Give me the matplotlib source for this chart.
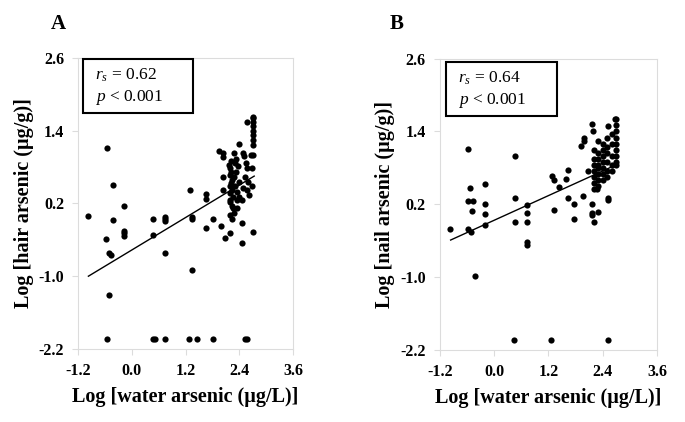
import matplotlib
matplotlib.use("Agg")
import matplotlib.pyplot as plt
from matplotlib.patches import Rectangle

plt.rcParams['font.family'] = ['Liberation Serif', 'DejaVu Serif']
plt.rcParams['mathtext.fontset'] = 'custom'
plt.rcParams['mathtext.rm'] = 'Liberation Serif'
plt.rcParams['mathtext.it'] = 'Liberation Serif:italic'

# Panel A: log water arsenic vs log hair arsenic
hair_x = [-0.55, -0.41, -0.18, -0.97, -0.58, -0.52, -0.46, -0.50, -0.42, -0.18, -0.18, -0.18,
          0.48, 0.48, 0.75, 0.75, 0.75, 0.75, 1.35, 1.35, 1.35, 1.30, 1.65, 1.66, 1.65, 1.81,
          1.99, 2.07, 2.18, 1.95, 2.03, 2.04, 2.04, 2.04, 2.39, 2.57, 2.70, 2.45, 2.45, 2.71,
          2.18, 2.23, 2.28, 2.34, 2.23, 2.18, 2.45, 2.25,
          -0.55, 0.48, 0.52, 0.75, 1.28, 1.46, 1.81, 2.52, 2.56,
          2.17, 2.20, 2.22, 2.19, 2.24, 2.21, 2.18, 2.23, 2.20, 2.25, 2.19, 2.22,
          2.28, 2.32, 2.30, 2.36, 2.33, 2.29, 2.38, 2.31, 2.35, 2.40, 2.34,
          2.47, 2.50, 2.55, 2.58, 2.52, 2.60, 2.49, 2.56, 2.62,
          2.71, 2.71, 2.71, 2.71, 2.71, 2.71, 2.71, 2.66, 2.71, 2.68, 2.68]
hair_y = [1.12, 0.50, 0.16, 0.00, -0.39, -0.62, -0.65, -1.31, -0.08, -0.25, -0.29, -0.34,
          -0.05, -0.32, -0.02, -0.06, -0.09, -0.62, -0.02, -0.05, -0.89, 0.42, 0.36, 0.28, -0.21, -0.05,
          -0.17, -0.37, -0.29, 1.07, 1.03, 0.96, 0.63, 0.42, 1.18, 1.54, 1.60, -0.13, -0.45, -0.27,
          0.01, -0.05, 0.04, 0.12, 0.16, 0.23, 0.25, 0.12,
          -2.03, -2.03, -2.03, -2.03, -2.03, -2.03, -2.03, -2.03, -2.03,
          0.83, 0.78, 0.72, 0.67, 0.59, 0.53, 0.48, 0.42, 0.37, 0.31, 0.26, 0.90,
          1.03, 0.94, 0.86, 0.81, 0.72, 0.64, 0.56, 0.48, 0.39, 0.31, 0.26,
          1.03, 0.98, 0.86, 0.78, 0.64, 0.56, 0.45, 0.42, 0.34,
          1.63, 1.55, 1.48, 1.40, 1.33, 1.25, 1.16, 1.00, 1.00, 0.78, 0.48]
hair_fit_x = [-0.97, 2.73]
hair_fit_y = [-1.00, 0.65]

# Panel B: log water arsenic vs log nail arsenic
nail_x = [-0.57, -0.54, -0.20, -0.57, -0.46, -0.20, 0.47, 0.46, 0.73, 1.27, 1.33, 1.64, 1.58,
          1.43, 1.63, 1.77, 1.97, 1.92, 1.99, 1.99, 2.08, 2.16, 2.18, 2.52, 2.67, 2.16, 2.22,
          2.28, 2.52,
          -0.98, -0.57, -0.52, -0.48, -0.20, -0.20, -0.43, 0.46, 0.73, 0.73, 0.73, 0.73, 1.33,
          1.77, 2.16, 2.16, 2.20, 2.29, 2.52,
          0.44, 1.25, 2.51,
          2.20, 2.20, 2.20, 2.20, 2.20, 2.20,
          2.30, 2.30, 2.30, 2.30, 2.30, 2.30, 2.30, 2.30,
          2.40, 2.40, 2.40, 2.40, 2.40, 2.40, 2.40,
          2.50, 2.50, 2.50, 2.50, 2.50, 2.50,
          2.60, 2.60, 2.60, 2.60, 2.60,
          2.70, 2.70, 2.70, 2.70, 2.70, 2.70, 2.70, 2.70, 2.70]
nail_y = [1.11, 0.47, 0.53, 0.26, 0.26, 0.21, 1.00, 0.31, 0.19, 0.67, 0.60, 0.76, 0.62,
          0.48, 0.31, 0.20, 0.34, 1.16, 1.30, 1.25, 0.75, 1.52, 1.40, 1.49, 1.60, 0.20, 0.45,
          0.45, 0.31,
          -0.21, -0.21, -0.26, 0.09, 0.04, -0.14, -0.99, -0.10, 0.06, -0.10, -0.43, -0.47, 0.11,
          -0.04, 0.06, 0.03, -0.10, 0.08, 0.27,
          -2.04, -2.04, -2.04,
          1.10, 0.95, 0.85, 0.75, 0.65, 0.55,
          1.25, 1.05, 0.95, 0.85, 0.80, 0.70, 0.60, 0.50,
          1.20, 1.10, 1.00, 0.90, 0.80, 0.70, 0.60,
          1.30, 1.15, 1.05, 0.90, 0.75, 0.65,
          1.35, 1.20, 1.00, 0.85, 0.75,
          1.60, 1.50, 1.40, 1.30, 1.20, 1.10, 1.00, 0.90, 0.85]
nail_fit_x = [-0.96, 2.73]
nail_fit_y = [-0.39, 0.86]

ticks_x = [-1.2, 0.0, 1.2, 2.4, 3.6]
ticks_y = [-2.2, -1.0, 0.2, 1.4, 2.6]

fig = plt.figure(figsize=(6.85, 4.22), dpi=100)
axA = fig.add_axes([0.114, 0.173, 0.314, 0.690])
axB = fig.add_axes([0.642, 0.171, 0.317, 0.690])

panels = [
    (axA, hair_x, hair_y, hair_fit_x, hair_fit_y, 'Log [hair arsenic (\u00b5g/g)]', '0.62', (0.023, 0.811, 0.512, 0.186)),
    (axB, nail_x, nail_y, nail_fit_x, nail_fit_y, 'Log [nail arsenic (\u00b5g/g)]', '0.64', (0.028, 0.804, 0.511, 0.186)),
]

for ax, xs, ys, fx, fy, ylab, rs, box in panels:
    ax.scatter(xs, ys, s=20, color='black', zorder=3, linewidths=0)
    ax.plot(fx, fy, color='black', lw=1.0, zorder=2)
    ax.set_xlim(-1.2, 3.6)
    ax.set_ylim(-2.2, 2.6)
    ax.set_xticks(ticks_x)
    ax.set_yticks(ticks_y)
    ax.set_xticklabels([f'{t:.1f}' for t in ticks_x], fontsize=11.5, fontweight='bold')
    ax.set_yticklabels([f'{t:.1f}' for t in ticks_y], fontsize=11.5, fontweight='bold')
    for sp in ax.spines.values():
        sp.set_color('#dcdcdc')
        sp.set_linewidth(0.8)
    ax.tick_params(direction='out', length=4, color='#dcdcdc', width=0.8, pad=6)
    ax.set_xlabel('Log [water arsenic (\u00b5g/L)]', fontsize=14.5, fontweight='bold', labelpad=6)
    ax.set_ylabel(ylab, fontsize=14.5, fontweight='bold', va='center')
    ax.yaxis.set_label_coords(-0.25, 0.5)
    ax.add_patch(Rectangle((box[0], box[1]), box[2], box[3], transform=ax.transAxes,
                           fill=False, edgecolor='black', lw=1.5, zorder=4, clip_on=False))
    ax.text(box[0] + 0.055, box[1] + 0.128, r'$r_s$ = ' + rs, transform=ax.transAxes,
            fontsize=12.5, va='center', ha='left')
    ax.text(box[0] + 0.055, box[1] + 0.052, r'$p$ < 0.001', transform=ax.transAxes,
            fontsize=12.5, va='center', ha='left')

fig.text(58 / 685, 1 - 24 / 422, 'A', fontsize=15, fontweight='bold', ha='center', va='center')
fig.text(397 / 685, 1 - 24 / 422, 'B', fontsize=15, fontweight='bold', ha='center', va='center')

fig.savefig('out.png', dpi=100)
